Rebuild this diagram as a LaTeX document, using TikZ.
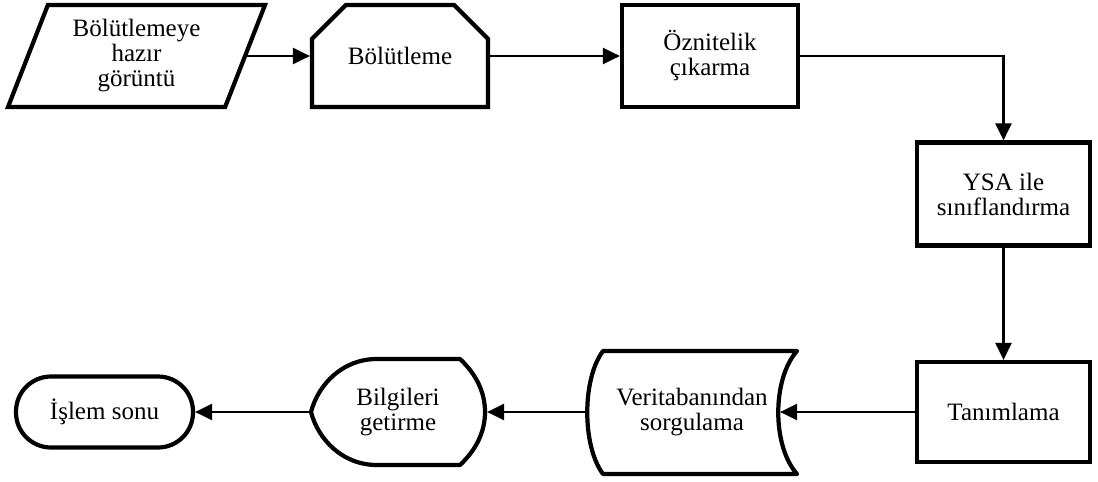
\documentclass[tikz,border=0pt]{standalone}
\usepackage{fontspec}
\setmainfont{Liberation Serif}
\usetikzlibrary{shapes.geometric,shapes.misc,arrows.meta}
\begin{document}
\begin{tikzpicture}[x=1pt,y=-1pt,
  lbl/.style={align=center, inner sep=0pt, font=\fontsize{25}{25}\selectfont},
  shp/.style={lbl, draw=black, line width=4.2pt, fill=white},
  ghost/.style={lbl, draw=none, outer sep=2.1pt},
  outline/.style={draw=black, line width=4.2pt, fill=white, line join=round},
  conn/.style={line width=2.4pt, -{Triangle[length=17pt,width=16pt]}}]
\useasboundingbox (0,0) rectangle (1098,482);

% top row
\node[shp, trapezium, trapezium left angle=62, trapezium right angle=118,
      trapezium stretches body, minimum width=257pt, minimum height=102pt]
      (inp) at (136.5,56)
      {\raisebox{-2.5pt}{\begin{tabular}{@{}c@{}}Bölütlemeye\\hazır\\görüntü\end{tabular}}};
\node[shp, chamfered rectangle, chamfered rectangle corners={north west,north east},
      chamfered rectangle xsep=25pt, chamfered rectangle ysep=25pt,
      minimum width=176pt, minimum height=102pt]
      (seg) at (400,56) {Bölütleme};
\node[shp, rectangle, minimum width=176pt, minimum height=102pt]
      (feat) at (710,56) {Öznitelik\\çıkarma};

% right column
\node[shp, rectangle, minimum width=173pt, minimum height=103pt]
      (ysa) at (1003.5,194) {YSA ile\\sınıflandırma};
\node[shp, rectangle, minimum width=173pt, minimum height=100pt]
      (tan) at (1003.5,412) {Tanımlama};

% stored data symbol
\path[outline] (603,351) -- (797,351)
   .. controls (772,379) and (772,446) .. (797,474) -- (603,474)
   .. controls (582,446) and (582,379) .. (603,351) -- cycle;
\node[ghost, minimum width=210pt, minimum height=123pt]
      (db) at (692,412) {Veritabanından\\sorgulama};

% display symbol
\path[outline] (377,359) -- (460,359)
   .. controls (477,375) and (485,393) .. (485,412)
   .. controls (485,431) and (477,449) .. (460,465) -- (377,465)
   .. controls (342,465) and (318,439) .. (311,412)
   .. controls (318,385) and (342,359) .. (377,359) -- cycle;
\node[ghost, minimum width=174pt, minimum height=106pt]
      (info) at (398,412) {Bilgileri\\getirme};

% terminator
\node[shp, rectangle, rounded corners=35pt, minimum width=177pt, minimum height=71pt]
      (stop) at (104.5,412) {İşlem sonu};

% connectors
\draw[conn] (inp.right side) -- (seg.west);
\draw[conn] (seg.east) -- (feat.west);
\draw[conn] (feat.east) -| (ysa.north);
\draw[conn] (ysa.south) -- (tan.north);
\draw[conn] (tan.west) -- ([xshift=-19pt]db.east);
\draw[conn] (db.west) -- (info.east);
\draw[conn] (info.west) -- (stop.east);
\end{tikzpicture}
\end{document}
